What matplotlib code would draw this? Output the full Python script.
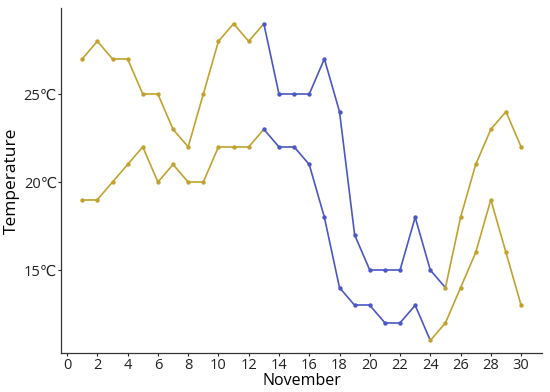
import numpy as np
import matplotlib
matplotlib.use('Agg')
import matplotlib.pyplot as plt

# Daily temperatures, November
days = list(range(1, 31))
high = [27, 28, 27, 27, 25, 25, 23, 22, 25, 28, 29, 28, 29, 25, 25,
        25, 27, 24, 17, 15, 15, 15, 18, 15, 14, 18, 21, 23, 24, 22]
low = [19, 19, 20, 21, 22, 20, 21, 20, 20, 22, 22, 22, 23, 22, 22,
       21, 18, 14, 13, 13, 12, 12, 13, 11, 12, 14, 16, 19, 16, 13]
# point group: 0 = gold, 1 = blue
high_group = [0] * 12 + [1] * 12 + [0] * 6
low_group = [0] * 12 + [1] * 11 + [0] * 7

y_ticks = [15, 20, 25]
y_tick_labels = ['15℃', '20℃', '25℃']
x_ticks = list(range(0, 31, 2))

colors = {0: '#C2A22E', 1: '#4A57C4'}

plt.rcParams['font.family'] = ['Open Sans', 'DejaVu Sans']

fig, ax = plt.subplots(figsize=(5.5, 3.92), dpi=100)


def draw_series(x, y, grp):
    # each segment takes the colour of its starting point
    for i in range(len(x) - 1):
        ax.plot(x[i:i + 2], y[i:i + 2], color=colors[grp[i]], lw=1.2,
                solid_capstyle='round', zorder=2)
    for g in (0, 1):
        xs = [a for a, k in zip(x, grp) if k == g]
        ys = [b for b, k in zip(y, grp) if k == g]
        ax.scatter(xs, ys, s=10, color=colors[g], zorder=3, linewidths=0)


draw_series(days, high, high_group)
draw_series(days, low, low_group)

ax.set_xlim(-0.4, 31.4)
ax.set_ylim(10.3, 29.9)
ax.set_xticks(x_ticks)
ax.set_yticks(y_ticks)
ax.set_yticklabels(y_tick_labels)
ax.tick_params(labelsize=10.5, length=2, width=0.8, colors='#222222')
ax.tick_params(axis='x', pad=1.5)
ax.tick_params(axis='y', pad=1)

for side in ('top', 'right'):
    ax.spines[side].set_visible(False)
for side in ('left', 'bottom'):
    ax.spines[side].set_color('#333333')
    ax.spines[side].set_linewidth(0.9)

ax.set_xlabel('November', fontsize=11.5, labelpad=0.5)
ax.set_ylabel('Temperature', fontsize=12.5, labelpad=3)

fig.subplots_adjust(left=0.111, right=0.986, bottom=0.1, top=0.98)
fig.savefig('out.png', dpi=100)
